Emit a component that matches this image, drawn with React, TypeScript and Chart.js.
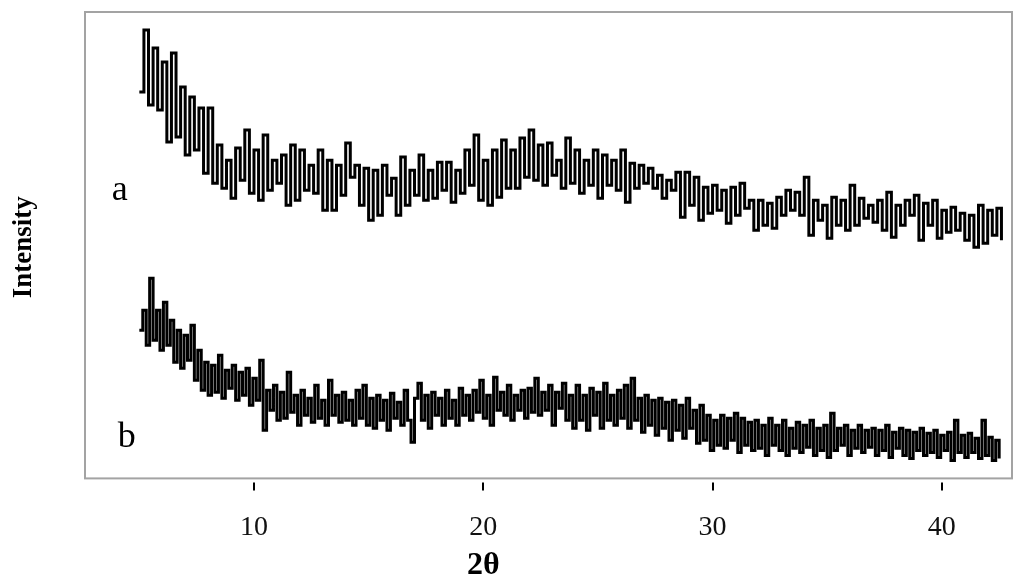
import React, { useEffect, useRef } from "react";
import { Chart, registerables } from "chart.js";

Chart.register(...registerables);

// 2θ sampling of each trace (degrees)
const THETA_A_START = 5.0;
const THETA_A_STEP = 0.2;
const THETA_B_START = 5.0;
const THETA_B_STEP = 0.15;

// x-axis tick labels
const X_TICKS = [10, 20, 30, 40];

// Trace a intensities (arbitrary units)
const SERIES_A = [
  408, 470, 395, 452, 390, 438, 358, 447, 363, 413,
  345, 403, 350, 392, 327, 392, 317, 355, 312, 340,
  302, 352, 320, 370, 307, 350, 300, 365, 310, 340,
  317, 345, 295, 355, 300, 350, 310, 335, 307, 350,
  290, 340, 290, 335, 305, 357, 323, 335, 295, 332,
  280, 330, 285, 335, 305, 322, 285, 343, 295, 330,
  305, 345, 300, 330, 302, 338, 310, 338, 298, 330,
  307, 350, 315, 365, 300, 340, 295, 350, 303, 360,
  312, 350, 312, 362, 323, 370, 320, 355, 315, 357,
  325, 340, 312, 362, 317, 350, 307, 340, 315, 350,
  302, 345, 315, 340, 310, 350, 298, 337, 312, 335,
  317, 332, 312, 325, 302, 320, 310, 328, 283, 328,
  295, 323, 280, 313, 287, 315, 290, 310, 277, 313,
  285, 317, 292, 300, 270, 300, 275, 297, 272, 303,
  285, 310, 290, 308, 285, 323, 265, 300, 280, 295,
  262, 303, 275, 300, 270, 315, 275, 302, 282, 295,
  278, 300, 270, 308, 263, 295, 275, 300, 285, 305,
  260, 297, 275, 300, 262, 290, 268, 293, 270, 287,
  260, 285, 253, 295, 257, 290, 265, 292, 260,
];

// Trace b intensities (arbitrary units)
const SERIES_B = [
  170, 190, 155, 222, 160, 190, 150, 198, 155, 180,
  138, 170, 132, 165, 140, 175, 120, 150, 110, 138,
  105, 135, 108, 145, 102, 130, 112, 135, 100, 128,
  105, 132, 95, 122, 100, 140, 70, 110, 90, 115,
  80, 108, 82, 128, 88, 105, 75, 110, 85, 102,
  78, 115, 82, 100, 75, 120, 85, 105, 78, 108,
  80, 100, 75, 110, 82, 115, 75, 102, 72, 105,
  80, 100, 70, 107, 82, 98, 75, 110, 80, 58,
  102, 117, 80, 105, 72, 108, 85, 102, 75, 110,
  82, 100, 75, 112, 85, 105, 80, 110, 88, 120,
  82, 105, 75, 123, 90, 108, 85, 115, 80, 105,
  90, 110, 82, 112, 88, 122, 85, 108, 90, 115,
  75, 108, 92, 117, 80, 105, 72, 115, 80, 105,
  70, 112, 85, 108, 72, 117, 80, 105, 75, 110,
  82, 115, 72, 122, 80, 102, 68, 105, 75, 100,
  65, 102, 72, 98, 60, 100, 70, 95, 62, 102,
  72, 90, 57, 95, 60, 85, 50, 80, 55, 85,
  52, 82, 60, 87, 48, 82, 55, 78, 50, 80,
  52, 75, 45, 82, 55, 75, 50, 80, 45, 72,
  52, 78, 48, 75, 53, 80, 45, 72, 50, 75,
  43, 87, 50, 72, 55, 75, 45, 70, 52, 75,
  48, 70, 53, 72, 45, 70, 50, 75, 43, 68,
  52, 72, 45, 70, 42, 68, 50, 72, 45, 67,
  48, 70, 43, 65, 50, 68, 40, 80, 48, 65,
  43, 67, 48, 62, 42, 80, 45, 63, 40, 60,
  42,
];

// Curve labels placed in data coordinates [2θ, intensity]
const LABELS: [string, number, number][] = [
  ["a", 4.15, 310],
  ["b", 4.45, 63],
];

const X_TITLE = "2θ";
const Y_TITLE = "Intensity";

const X_MIN = 2.63;
const X_MAX = 43.06;
const Y_MIN = 22;
const Y_MAX = 488;

const SERIF = "'Liberation Serif', 'Times New Roman', serif";

function toPoints(start: number, step: number, values: number[]) {
  return values.map((v, i) => ({ x: +(start + step * i).toFixed(3), y: v }));
}

const framePlugin = {
  id: "frameAndMarks",
  afterDraw(chart: any) {
    const { ctx, chartArea } = chart;
    const xs = chart.scales.x;
    const ys = chart.scales.y;
    ctx.save();
    // grey frame
    ctx.strokeStyle = "#a3a3a3";
    ctx.lineWidth = 2;
    ctx.strokeRect(
      chartArea.left,
      chartArea.top,
      chartArea.right - chartArea.left,
      chartArea.bottom - chartArea.top
    );
    // tick marks below the frame
    ctx.strokeStyle = "#000";
    ctx.lineWidth = 2;
    for (const t of X_TICKS) {
      const px = Math.round(xs.getPixelForValue(t));
      ctx.beginPath();
      ctx.moveTo(px, chartArea.bottom + 4);
      ctx.lineTo(px, chartArea.bottom + 12);
      ctx.stroke();
    }
    // curve labels
    ctx.fillStyle = "#000";
    ctx.font = `36px ${SERIF}`;
    ctx.textAlign = "center";
    ctx.textBaseline = "middle";
    for (const [txt, x, y] of LABELS) {
      ctx.fillText(txt, xs.getPixelForValue(x), ys.getPixelForValue(y));
    }
    // axis titles
    ctx.font = `bold 32px ${SERIF}`;
    ctx.fillText(X_TITLE, xs.getPixelForValue(20), 566);
    ctx.save();
    ctx.translate(24, (chartArea.top + chartArea.bottom) / 2 + 2);
    ctx.rotate(-Math.PI / 2);
    ctx.font = `bold 27px ${SERIF}`;
    ctx.fillText(Y_TITLE, 0, 0);
    ctx.restore();
    ctx.restore();
  },
};

export default function App() {
  const ref = useRef<HTMLCanvasElement | null>(null);

  useEffect(() => {
    document.body.style.margin = "0";
    const canvas = ref.current;
    if (!canvas) return;
    const chart = new Chart(canvas, {
      type: "line",
      data: {
        datasets: [
          {
            label: "a",
            data: toPoints(THETA_A_START, THETA_A_STEP, SERIES_A),
            borderColor: "#000",
            borderWidth: 3,
            pointRadius: 0,
            stepped: true,
            fill: false,
          },
          {
            label: "b",
            data: toPoints(THETA_B_START, THETA_B_STEP, SERIES_B),
            borderColor: "#000",
            borderWidth: 3,
            pointRadius: 0,
            stepped: true,
            fill: false,
          },
        ],
      },
      options: {
        animation: false,
        responsive: false,
        events: [],
        layout: { padding: { left: 85, right: 12, top: 12, bottom: 20 } },
        plugins: {
          legend: { display: false },
          tooltip: { enabled: false },
        },
        scales: {
          x: {
            type: "linear",
            min: X_MIN,
            max: X_MAX,
            afterBuildTicks: (axis: any) => {
              axis.ticks = X_TICKS.map((v) => ({ value: v }));
            },
            grid: {
              display: true,
              drawOnChartArea: false,
              drawTicks: true,
              tickLength: 10,
              color: "rgba(0,0,0,0)",
            },
            border: { display: false },
            ticks: {
              padding: 22,
              color: "#111",
              font: { family: SERIF, size: 28 },
              maxRotation: 0,
            },
            title: { display: false },
          },
          y: {
            type: "linear",
            display: false,
            min: Y_MIN,
            max: Y_MAX,
          },
        },
      },
      plugins: [framePlugin],
    });
    return () => chart.destroy();
  }, []);

  return (
    <div style={{ width: 1024, height: 586, background: "#fff" }}>
      <canvas ref={ref} width={1024} height={586} />
    </div>
  );
}
